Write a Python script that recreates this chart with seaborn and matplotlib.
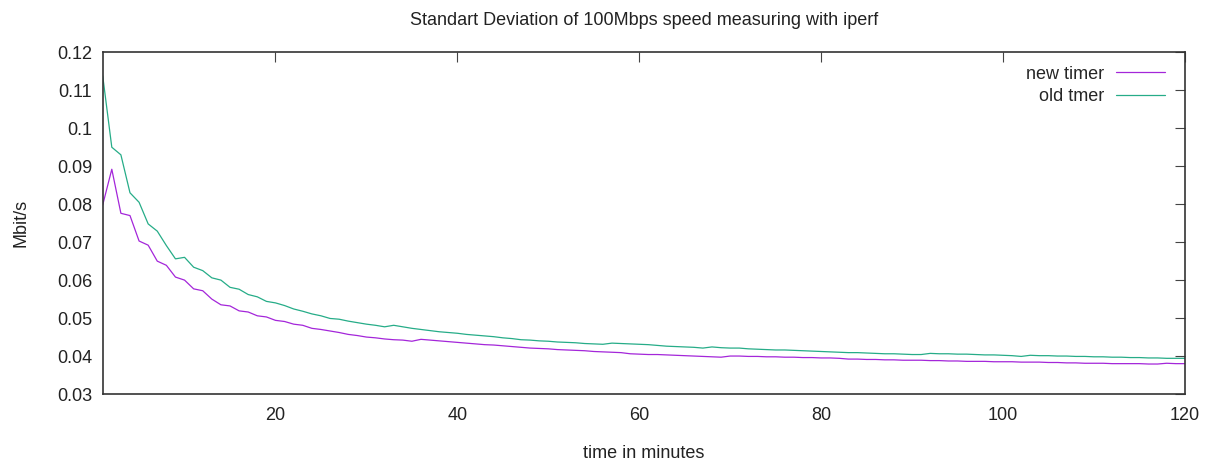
import numpy as np
import pandas as pd
import seaborn as sns
import matplotlib.pyplot as plt
from matplotlib.ticker import FuncFormatter, MultipleLocator

minutes = list(range(1, 121))

new_timer = [
    0.0798, 0.0892, 0.0776, 0.0770, 0.0703, 0.0692, 0.0650, 0.0639, 0.0608, 0.0600,
    0.0577, 0.0572, 0.0550, 0.0535, 0.0532, 0.0519, 0.0516, 0.0506, 0.0503, 0.0494,
    0.0491, 0.0484, 0.0481, 0.0473, 0.0470, 0.0466, 0.0462, 0.0457, 0.0454, 0.0450,
    0.0448, 0.0445, 0.0443, 0.0442, 0.0439, 0.0444, 0.0442, 0.0440, 0.0438, 0.0436,
    0.0434, 0.0432, 0.0430, 0.0429, 0.0427, 0.0425, 0.0423, 0.0421, 0.0420, 0.0419,
    0.0417, 0.0416, 0.0415, 0.0414, 0.0412, 0.0411, 0.0410, 0.0409, 0.0406, 0.0405,
    0.0404, 0.0404, 0.0403, 0.0402, 0.0401, 0.0400, 0.0399, 0.0398, 0.0397, 0.0400,
    0.0400, 0.0399, 0.0399, 0.0398, 0.0398, 0.0397, 0.0397, 0.0396, 0.0396, 0.0395,
    0.0395, 0.0394, 0.0392, 0.0392, 0.0391, 0.0391, 0.0390, 0.0390, 0.0389, 0.0389,
    0.0389, 0.0388, 0.0388, 0.0387, 0.0387, 0.0386, 0.0386, 0.0386, 0.0385, 0.0385,
    0.0385, 0.0384, 0.0384, 0.0384, 0.0383, 0.0383, 0.0382, 0.0382, 0.0381, 0.0381,
    0.0381, 0.0380, 0.0380, 0.0380, 0.0380, 0.0379, 0.0379, 0.0381, 0.0380, 0.0380,
]

old_timer = [
    0.1138, 0.0950, 0.0930, 0.0830, 0.0805, 0.0748, 0.0729, 0.0691, 0.0656, 0.0660,
    0.0634, 0.0625, 0.0606, 0.0600, 0.0581, 0.0576, 0.0562, 0.0556, 0.0544, 0.0540,
    0.0533, 0.0524, 0.0518, 0.0511, 0.0506, 0.0499, 0.0497, 0.0492, 0.0488, 0.0484,
    0.0481, 0.0477, 0.0481, 0.0477, 0.0473, 0.0470, 0.0467, 0.0464, 0.0462, 0.0460,
    0.0457, 0.0455, 0.0453, 0.0451, 0.0448, 0.0446, 0.0443, 0.0442, 0.0440, 0.0439,
    0.0437, 0.0436, 0.0435, 0.0433, 0.0432, 0.0431, 0.0434, 0.0433, 0.0432, 0.0431,
    0.0430, 0.0428, 0.0426, 0.0425, 0.0424, 0.0423, 0.0421, 0.0424, 0.0422, 0.0421,
    0.0421, 0.0419, 0.0418, 0.0417, 0.0416, 0.0416, 0.0415, 0.0414, 0.0413, 0.0412,
    0.0411, 0.0410, 0.0409, 0.0409, 0.0408, 0.0407, 0.0406, 0.0406, 0.0405, 0.0404,
    0.0404, 0.0407, 0.0406, 0.0406, 0.0405, 0.0405, 0.0404, 0.0403, 0.0403, 0.0402,
    0.0401, 0.0399, 0.0402, 0.0401, 0.0401, 0.0400, 0.0400, 0.0399, 0.0399, 0.0398,
    0.0398, 0.0397, 0.0397, 0.0396, 0.0396, 0.0395, 0.0395, 0.0394, 0.0394, 0.0394,
]

series_names = ["new timer", "old tmer"]
series_colors = ["#9400d3", "#009e73"]

x_ticks = [20, 40, 60, 80, 100, 120]


def main():
    df = pd.concat([
        pd.DataFrame({"minute": minutes, "std": new_timer, "series": series_names[0]}),
        pd.DataFrame({"minute": minutes, "std": old_timer, "series": series_names[1]}),
    ])

    sns.set_style("white")
    plt.rcParams["font.family"] = ["Liberation Sans", "DejaVu Sans"]
    plt.rcParams["font.size"] = 13

    fig, ax = plt.subplots(figsize=(12.14, 4.63), dpi=100)
    fig.subplots_adjust(left=0.0846, right=0.976, top=0.887, bottom=0.149)

    sns.lineplot(data=df, x="minute", y="std", hue="series", hue_order=series_names,
                 palette=dict(zip(series_names, series_colors)), linewidth=0.9,
                 alpha=0.85, ax=ax)

    ax.set_xlim(1, 120)
    ax.set_ylim(0.03, 0.12)
    ax.set_xticks(x_ticks)
    ax.yaxis.set_major_locator(MultipleLocator(0.01))
    ax.yaxis.set_major_formatter(FuncFormatter(lambda v, p: "%g" % round(v, 4)))

    ax.tick_params(direction="in", length=7, width=0.8, color="#444444",
                   top=True, right=True, labelsize=13, labelcolor="#222222")
    ax.tick_params(axis="y", pad=7.5)
    ax.tick_params(axis="x", pad=9)
    for s in ax.spines.values():
        s.set_color("#333333")
        s.set_linewidth(1.2)

    ax.set_title("Standart Deviation of 100Mbps speed measuring with iperf",
                 fontsize=13, color="#222222", pad=20)
    ax.set_xlabel("time in minutes", fontsize=13, color="#222222")
    ax.set_ylabel("Mbit/s", fontsize=13, color="#222222")
    ax.xaxis.set_label_coords(0.5, -0.148)
    ax.yaxis.set_label_coords(-0.068, 0.5)

    handles, labels = ax.get_legend_handles_labels()
    ax.legend(handles, labels, loc="upper right", bbox_to_anchor=(0.9815, 0.961),
              frameon=False, markerfirst=False, borderaxespad=0, borderpad=0,
              handlelength=2.7, handletextpad=0.65, labelspacing=0.32, fontsize=13)

    fig.savefig("out.png", dpi=100)


if __name__ == "__main__":
    main()
